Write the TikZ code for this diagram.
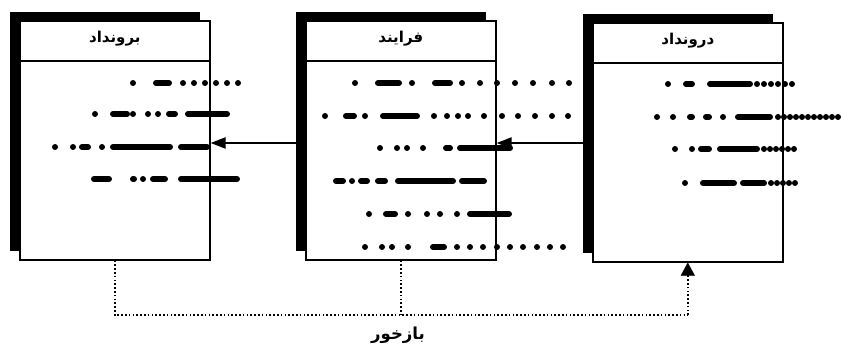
\documentclass[tikz,border=0pt]{standalone}
\usepackage{fontspec}
\usetikzlibrary{arrows.meta,calc}
\TeXXeTstate=1
\newfontfamily\arabicfont[Script=Arabic]{DejaVu Sans}

% one row of "text" marks: dots and merged runs
\newcommand\markrow[3]{%
  \foreach \xx in {#2} {\fill (\xx,#1) circle (3pt);}%
  \foreach \aa/\bb in {#3} {\draw[runline] (\aa+3,#1) -- (\bb-3,#1);}%
}

\tikzset{
  panelshadow/.style={fill=black, draw=none, minimum width=190pt, minimum height=239pt,
    inner sep=0pt, anchor=north west},
  panel/.style={fill=white, draw=black, line width=1.6pt, minimum width=190pt,
    minimum height=239pt, inner sep=0pt, anchor=north west},
  headline/.style={line width=1.1pt},
  title/.style={font=\arabicfont\bfseries\fontsize{15}{17}\selectfont, inner sep=0pt},
  fbtitle/.style={font=\arabicfont\bfseries\fontsize{16.5}{18}\selectfont, inner sep=0pt},
  flow/.style={line width=2.2pt, -{Triangle[length=15pt,width=11pt]}},
  fb/.style={line width=1.8pt, dash pattern=on 1.6pt off 2.2pt},
  fbarrow/.style={-{Triangle[length=13pt,width=14pt]}},
  runline/.style={line width=6pt, line cap=round},
}

\begin{document}
\begin{tikzpicture}[x=1pt, y=-1pt]
\useasboundingbox[fill=white] (0,0) rectangle (842,344);

% shadows
\node[panelshadow] (outsh)  at (10,12)  {};
\node[panelshadow] (procsh) at (296,12) {};
\node[panelshadow] (insh)   at (583,14) {};

% panels
\node[panel] (out)  at (19,20)  {};
\node[panel] (proc) at (305,20) {};
\node[panel] (in)   at (592,22) {};

% header dividers
\foreach \b in {out,proc,in} {
  \draw[headline] ($(\b.north west)+(0,41)$) -- ($(\b.north east)+(0,41)$);
}

% titles
\node[title] (outt)  at ($(out.north)+(0,19)$)  {\beginR برونداد\endR};
\node[title] (proct) at ($(proc.north)+(0,19)$) {\beginR فرایند\endR};
\node[title] (int)   at ($(in.north)+(0,19)$)   {\beginR درونداد\endR};

% flow arrows between the panels
\draw[flow] (procsh.west |- 0,143) -- (out.east |- 0,143);
\draw[flow] (insh.west |- 0,143) -- (proc.east |- 0,143);

% rows in the output panel
\markrow{83}{133,183,194,205,216,227,238}{153/172}
\markrow{114}{95,133,148,158}{110/130,166/178,185/230}
\markrow{147}{55,73,102}{79/91,110/173,178/210}
\markrow{179}{143}{91/112,130/137,150/168,178/240}

% rows in the process panel
\markrow{83}{355,412,462,480,497,515,533,552,569}{375/402,432/453}
\markrow{116}{325,365,434,447,458,468,484,502,518,535,552,568}{343/357,380/420}
\markrow{148}{380,397,407,423}{443/453,457/513}
\markrow{181}{352}{333/346,358/370,375/388,395/456,459/487}
\markrow{214}{369,408,427,440,457}{383/398,467/512}
\markrow{247}{365,382,392,408,457,470,483,497,510,523,537,550,563}{430/447}

% rows in the input panel
\markrow{84}{668,757,764,771,778,785,792}{683/695,707/753}
\markrow{117}{657,673,723,778,784,790,796,802,808,814,820,826,832,838}{687/695,703/712,735/773}
\markrow{149}{675,692,764,770,776,782,788,794}{698/712,717/760}
\markrow{183}{685,771,777,783,789,795}{700/737,740/767}

% feedback loop
\coordinate (fbline) at (0,315);
\draw[fb] (out.south) -- (out.south |- fbline) -- (in.south |- fbline);
\draw[fb] (proc.south) -- (proc.south |- fbline);
\draw[fb] (in.south |- fbline) -- ($(in.south)+(0,12)$);
\draw[fbarrow, line width=0.1pt] ($(in.south)+(0,13)$) -- (in.south);
\node[fbtitle] (fbt) at (398,335) {\beginR بازخور\endR};
\end{tikzpicture}
\end{document}
